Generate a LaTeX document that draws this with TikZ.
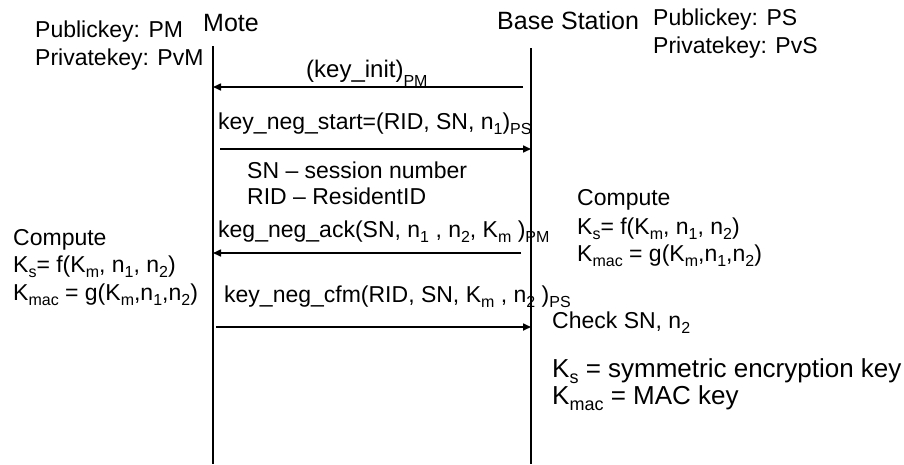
\documentclass[tikz,border=0pt]{standalone}
\usepackage{fontspec}
\setmainfont{Liberation Sans}
\usetikzlibrary{arrows.meta}
\newcommand{\sbx}[1]{\raisebox{-0.25em}{\fontsize{16}{16}\selectfont #1}}
\newcommand{\sbl}[1]{\raisebox{-0.38em}{\fontsize{16}{16}\selectfont #1}}
\newcommand{\sbb}[1]{\raisebox{-0.25em}{\fontsize{18}{18}\selectfont #1}}
\begin{document}
\begin{tikzpicture}[x=1pt,y=-1pt,
  txt/.style={anchor=base west, inner sep=0pt, font=\fontsize{23}{27.6}\selectfont},
  big/.style={anchor=base west, inner sep=0pt, font=\fontsize{26}{31}\selectfont},
  ttl/.style={anchor=base west, inner sep=0pt, font=\fontsize{25}{30}\selectfont},
  life/.style={line width=1.3pt},
  msg/.style={line width=1.6pt, -{Triangle[length=8pt,width=7pt]}}]
\useasboundingbox (0,0) rectangle (904,464);
% titles and keys
\node[ttl] (mote) at (203,31) {Mote};
\node[ttl] (base) at (497,29) {Base Station};
\node[txt] (pkM) at (35,37) {Publickey: PM};
\node[txt] (pvM) at (35,65) {Privatekey: PvM};
\node[txt] (pkS) at (653,25) {Publickey: PS};
\node[txt] (pvS) at (653,53) {Privatekey: PvS};
% lifelines
\coordinate (mtop) at (213,46);
\coordinate (mbot) at (213,464);
\coordinate (btop) at (531,48);
\coordinate (bbot) at (531,464);
\draw[life] (mtop) -- (mbot);
\draw[life] (btop) -- (bbot);
% message end points
\coordinate (b1) at (523,87);  \coordinate (m1) at (213,87);
\coordinate (m2) at (220,149); \coordinate (b2) at (531,149);
\coordinate (b3) at (521,253); \coordinate (m3) at (213,253);
\coordinate (m4) at (216,327); \coordinate (b4) at (531,327);
\draw[msg] (b1) -- (m1);
\draw[msg] (m2) -- (b2);
\draw[msg] (b3) -- (m3);
\draw[msg] (m4) -- (b4);
% message labels
\node[txt, font=\fontsize{24}{28}\selectfont] (l1) at (306,77) {(key\_init)\sbl{PM}};
\node[txt] (l2) at (218,129) {key\_neg\_start=(RID, SN, n\sbx{1})\sbx{PS}};
\node[txt] (sn) at (247,178) {SN – session number};
\node[txt] (rid) at (247,204) {RID – ResidentID};
\node[txt] (l3) at (218,237) {keg\_neg\_ack(SN, n\sbx{1} , n\sbx{2}, K\sbx{m} )\sbx{PM}};
\node[txt] (l4) at (224,302) {key\_neg\_cfm(RID, SN, K\sbx{m} , n\sbx{2} )\sbx{PS}};
% right side notes
\node[txt] (rc) at (577,205) {Compute};
\node[txt] (rks) at (577,234) {K\sbx{s}= f(K\sbx{m}, n\sbx{1}, n\sbx{2})};
\node[txt] (rkm) at (577,261) {K\sbx{mac} = g(K\sbx{m},n\sbx{1},n\sbx{2})};
\node[txt] (chk) at (552,328) {Check SN, n\sbx{2}};
\node[big] (ks) at (552,377) {K\sbb{s} = symmetric encryption key};
\node[big] (kmac) at (552,404) {K\sbb{mac} = MAC key};
% left side notes
\node[txt] (lc) at (13,245) {Compute};
\node[txt] (lks) at (13,272) {K\sbx{s}= f(K\sbx{m}, n\sbx{1}, n\sbx{2})};
\node[txt] (lkm) at (13,300) {K\sbx{mac} = g(K\sbx{m},n\sbx{1},n\sbx{2})};
\end{tikzpicture}
\end{document}
